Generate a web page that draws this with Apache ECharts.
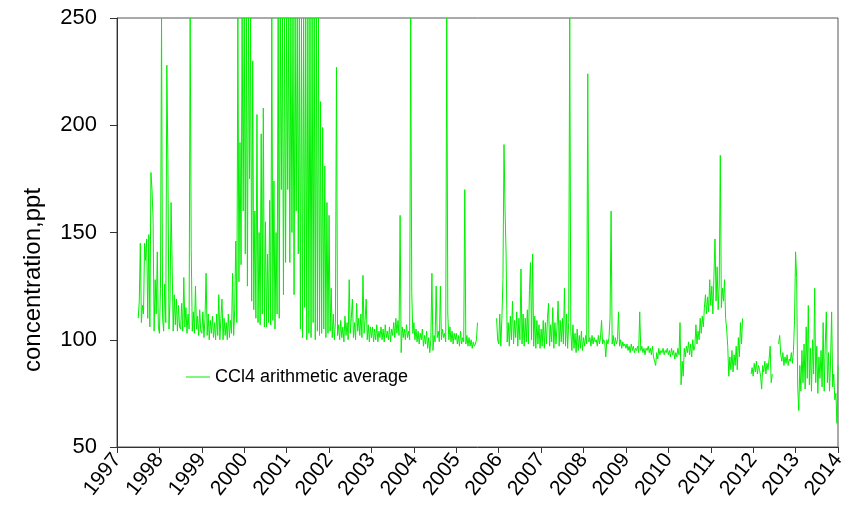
<!DOCTYPE html>
<html>
<head>
<meta charset="utf-8">
<script src="https://cdn.jsdelivr.net/npm/echarts@6/dist/echarts.min.js"></script>
<style>
  html, body { margin: 0; padding: 0; background: #fff; }
  #chart { width: 857px; height: 523px; }
</style>
</head>
<body>
<div id="chart"></div>
<script>
// sampling step (years) and start year of each continuous run of data
const step = 0.025;
const segStarts = [1997.5, 2005.95, 2011.95, 2012.6];

// CCl4 values, ppt (one row = half a year)
const ccl4A = [
  110, 118, 145, 108, 116, 112, 145, 137, 147, 110, 149, 106, 178, 170, 157, 104, 128, 112, 141, 106,
  103, 124, 250, 110, 104, 126, 108, 228, 183, 105, 118, 164, 135, 104, 121, 107, 119, 104, 116, 106,
  105, 117, 104, 129, 106, 115, 103, 112, 105, 250, 142, 104, 113, 103, 125, 105, 111, 102, 114, 104,
  103, 113, 101, 110, 131, 102, 112, 100, 109, 103, 111, 101, 108, 100, 112, 102, 121, 100, 110, 119,
  100, 110, 102, 108, 100, 112, 101, 109, 103, 131, 102, 114, 146, 108, 250, 127, 192, 135, 250, 160,
  250, 140, 250, 125, 250, 175, 250, 118, 230, 114, 160, 110, 205, 108, 150, 107, 196, 112, 208, 106,
  155, 106, 140, 108, 165, 107, 250, 109, 174, 105, 150, 112, 250, 110, 250, 170, 250, 121, 250, 136,
  250, 170, 250, 136, 250, 150, 250, 121, 250, 160, 250, 140, 250, 105, 250, 101, 250, 115, 250, 100,
  250, 103, 250, 101, 250, 108, 250, 100, 250, 104, 250, 102, 211, 103, 199, 105, 181, 101, 164, 103,
  158, 104, 124, 101, 112, 100, 108, 227, 102, 107, 100, 109, 101, 106, 99, 111, 102, 108, 100, 128,
  103, 110, 119, 101, 108, 100, 117, 104, 110, 102, 112, 101, 130, 103, 109, 119, 100, 107, 99, 106,
  101, 106, 99, 105, 100, 107, 99, 104, 101, 106, 100, 105, 99, 107, 101, 104, 100, 106, 99, 105,
  102, 108, 101, 110, 103, 109, 102, 158, 94, 106, 101, 105, 100, 107, 101, 104, 100, 250, 122, 103,
  108, 100, 105, 99, 104, 98, 103, 100, 105, 97, 102, 98, 104, 96, 101, 94, 100, 131, 95, 102,
  99, 125, 101, 104, 99, 125, 100, 105, 101, 103, 99, 250, 112, 100, 106, 99, 104, 98, 103, 100,
  103, 98, 102, 97, 104, 98, 101, 99, 170, 98, 102, 97, 101, 97, 100, 96, 99, 97, 98, 100, 108
];
const ccl4B = [
  110, 100,
  98, 112, 97, 110, 128, 191, 160, 139, 99, 108, 97, 111, 100, 118, 98, 109, 101, 113, 97, 110,
  100, 133, 98, 112, 97, 110, 99, 114, 98, 123, 136, 100, 140, 97, 111, 96, 109, 98, 107, 96,
  105, 97, 109, 96, 108, 98, 110, 117, 97, 107, 99, 115, 96, 108, 98, 106, 118, 97, 109, 99,
  110, 98, 124, 97, 112, 96, 108, 250, 104, 95, 107, 96, 103, 94, 105, 95, 102, 96, 104, 95,
  101, 97, 102, 98, 224, 99, 101, 97, 102, 98, 101, 99, 100, 97, 102, 98, 101, 109, 98, 100,
  99, 92, 100, 98, 101, 110, 160, 98, 102, 97, 101, 98, 100, 113, 97, 100, 96, 99, 97, 98,
  96, 98, 95, 97, 94, 98, 95, 97, 94, 96, 95, 97, 94, 113, 95, 97, 94, 96, 93, 96,
  95, 97, 94, 96, 93, 97, 92, 90, 88, 94, 91, 96, 93, 95, 94, 96, 93, 95, 94, 96,
  93, 95, 92, 96, 93, 95, 91, 94, 92, 96, 93, 108, 79, 90, 83, 96, 92, 97, 94, 99,
  93, 98, 92, 100, 95, 97, 107, 98, 104, 100, 110, 103, 111, 106, 115, 121, 112, 120, 113, 128,
  116, 125, 112, 130, 147, 118, 134, 114, 126, 186, 115, 124, 118, 128, 110, 105, 97, 83, 92, 86,
  95, 85, 93, 88, 97, 86, 101, 92, 108, 98, 110
];
const ccl4C = [
  84, 87, 83, 89, 85, 90, 84, 88, 86, 83, 77, 88, 85, 90, 84, 89, 86, 91, 97, 80, 84
];
const ccl4D = [
  98, 102, 93, 90, 94, 88, 92, 89, 93, 88, 91, 90, 94, 89, 95, 109, 141, 129, 78, 67,
  88, 76, 95, 80, 98, 77, 106, 82, 116, 79, 96, 76, 100, 84, 124, 80, 97, 75, 92, 82,
  95, 78, 108, 76, 98, 113, 80, 94, 76, 90, 113, 78, 84, 72, 75, 61, 88
];

const yearTicks = { min: 1997, max: 2014, interval: 1 };
const valueTicks = { min: 50, max: 250, interval: 50 };

const buildData = () => {
  const out = [];
  [ccl4A, ccl4B, ccl4C, ccl4D].forEach((seg, s) => {
    if (s > 0) out.push([segStarts[s] - 0.01, '-']);
    seg.forEach((v, i) => {
      out.push([+(segStarts[s] + i * step).toFixed(3), v]);
    });
  });
  return out;
};

const font = 'Liberation Sans, Arial, sans-serif';
const green = '#00f000';

const drawChart = (domElement) => {
  const chart = echarts.init(domElement);
  const option = {
    animation: false,
    grid: {
      left: 117, right: 19, top: 18, bottom: 76,
      show: true, borderColor: '#555', borderWidth: 1
    },
    legend: {
      left: 186, top: 368, padding: 0,
      icon: 'rect', itemWidth: 24, itemHeight: 1, itemGap: 4,
      textStyle: { fontFamily: font, fontSize: 18, color: '#000' },
      data: ['CCl4 arithmetic average']
    },
    xAxis: {
      type: 'value',
      min: yearTicks.min, max: yearTicks.max, interval: yearTicks.interval,
      splitLine: { show: false },
      axisLine: { lineStyle: { color: '#333' } },
      axisTick: { length: 6, lineStyle: { color: '#333' } },
      axisLabel: {
        rotate: 52, margin: 9,
        fontFamily: font, fontSize: 21, color: '#000',
        formatter: (v) => String(v)
      }
    },
    yAxis: {
      type: 'value',
      min: valueTicks.min, max: valueTicks.max, interval: valueTicks.interval,
      splitLine: { show: false },
      axisLine: { show: true, lineStyle: { color: '#333' } },
      axisTick: { show: true, length: 7, lineStyle: { color: '#333' } },
      axisLabel: { margin: 20, fontFamily: font, fontSize: 22, color: '#000' }
    },
    graphic: [{
      type: 'text',
      x: 33, y: 280,
      rotation: Math.PI / 2,
      style: {
        text: 'concentration,ppt',
        font: '24px ' + font,
        fill: '#000',
        textAlign: 'center',
        textVerticalAlign: 'middle'
      }
    }],
    series: [{
      name: 'CCl4 arithmetic average',
      type: 'line',
      data: buildData(),
      symbol: 'none',
      sampling: 'none',
      connectNulls: false,
      lineStyle: { color: green, width: 1 },
      itemStyle: { color: green }
    }]
  };
  chart.setOption(option);
};

drawChart(document.querySelector('#chart'));
</script>
</body>
</html>
